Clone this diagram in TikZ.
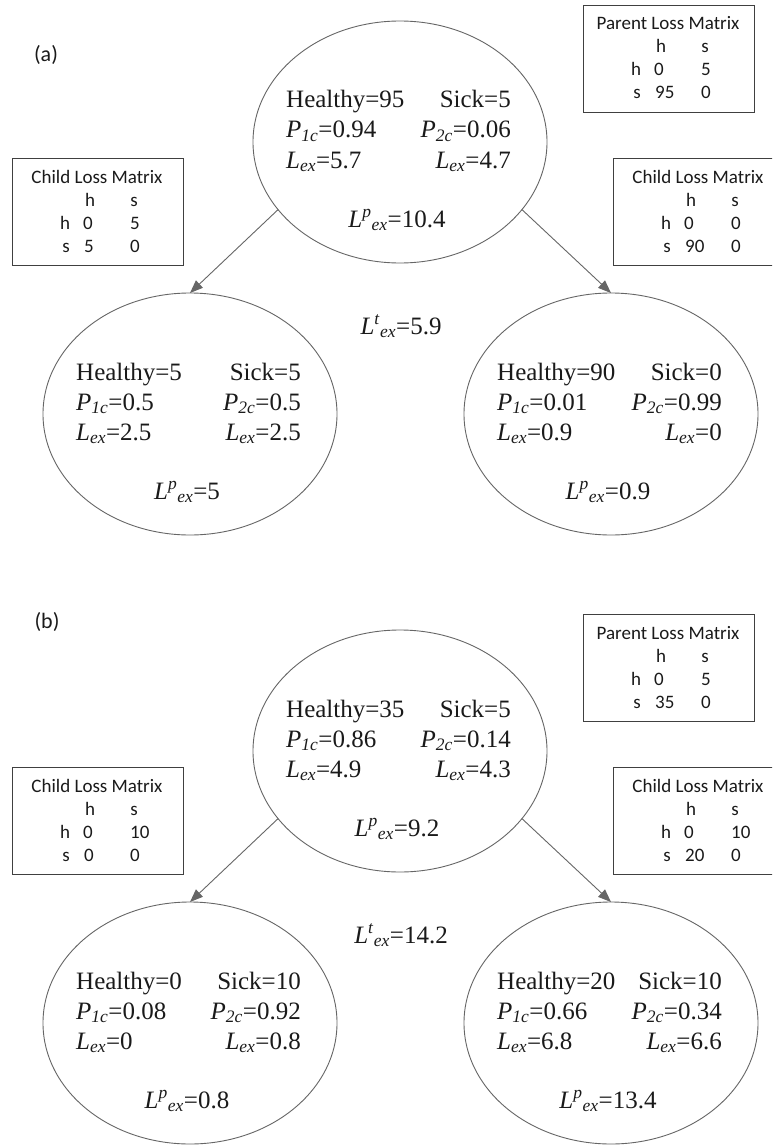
\documentclass[tikz,border=0pt]{standalone}
\usepackage{fontspec}
\setmainfont{Liberation Serif}
\newfontfamily\boxfont{Carlito}
\usetikzlibrary{shapes.geometric,arrows.meta}
\definecolor{linegray}{HTML}{666666}
\definecolor{boxgray}{HTML}{404040}
\definecolor{txtcol}{HTML}{1A1A1A}
\newcommand{\mP}[1]{\textit{P}\textsubscript{\textit{#1}}}
\newcommand{\mLex}{\textit{L}\textsubscript{\textit{ex}}}
\newcommand{\mLsup}[1]{\textit{L}\textsuperscript{\textit{#1}}\textsubscript{\textit{ex}}}
\tikzset{
  ell/.style={ellipse, draw=linegray, line width=0.9pt, inner sep=0pt, outer sep=0pt,
              minimum width=294, minimum height=242},
  txt/.style={inner sep=0pt, text=txtcol, font=\rmfamily\fontsize{25}{30}\selectfont},
  btxt/.style={inner sep=0pt, text=txtcol, font=\boxfont\fontsize{19}{21}\selectfont},
  lbox/.style={draw=boxgray, line width=0.9pt, inner sep=0pt, outer sep=0pt,
               minimum width=171, minimum height=107},
  arr/.style={draw=linegray, line width=0.9pt, -{Triangle[length=13pt,width=10pt,fill=linegray]}},
  lab/.style={inner sep=0pt, text=txtcol, font=\boxfont\fontsize{22}{26}\selectfont}
}
\newcommand{\ellcontent}[8]{%
  \path (#1.center) ++(-114,-34) node[txt, anchor=base west] (#1-a) {Healthy=#2};
  \path (#1.center) ++(111,-34) node[txt, anchor=base east] (#1-b) {Sick=#3};
  \path (#1.center) ++(-114,-4) node[txt, anchor=base west] (#1-c) {\mP{1c}=#4};
  \path (#1.center) ++(111,-4) node[txt, anchor=base east] (#1-d) {\mP{2c}=#5};
  \path (#1.center) ++(-114,26) node[txt, anchor=base west] (#1-e) {\mLex=#6};
  \path (#1.center) ++(111,26) node[txt, anchor=base east] (#1-f) {\mLex=#7};
  \path (#1.center) ++(-3,85) node[txt, anchor=base] (#1-g) {\mLsup{p}=#8};
}
\newcommand{\lossbox}[8]{%
  \node[lbox, anchor=north west] (#1) at (#2,#3) {};
  \path (#1.north west) ++(85,25) node[btxt, anchor=base] (#1-t) {#4};
  \path (#1.north west) ++(78,48) node[btxt, anchor=base] (#1-hh) {h};
  \path (#1.north west) ++(122,48) node[btxt, anchor=base] (#1-hs) {s};
  \path (#1.north west) ++(53,71) node[btxt, anchor=base] (#1-rh) {h};
  \path (#1.north west) ++(71,71) node[btxt, anchor=base west] (#1-a) {#5};
  \path (#1.north west) ++(118,71) node[btxt, anchor=base west] (#1-b) {#6};
  \path (#1.north west) ++(54,94) node[btxt, anchor=base] (#1-rs) {s};
  \path (#1.north west) ++(72,94) node[btxt, anchor=base west] (#1-c) {#7};
  \path (#1.north west) ++(118,94) node[btxt, anchor=base west] (#1-d) {#8};
}
\begin{document}
\begin{tikzpicture}[x=1pt,y=-1pt]
\useasboundingbox (0,0) rectangle (772,1145);
\fill[white] (0,0) rectangle (772,1145);
\clip (0,0) rectangle (772,1145);

% ---------- (a) ----------
\node[lab] (labA) at (46,55) {(a)};
\node[ell] (aT) at (400,142) {};
\node[ell] (aL) at (190,414) {};
\node[ell] (aR) at (611,414) {};
\ellcontent{aT}{95}{5}{0.94}{0.06}{5.7}{4.7}{10.4}
\ellcontent{aL}{5}{5}{0.5}{0.5}{2.5}{2.5}{5}
\ellcontent{aR}{90}{0}{0.01}{0.99}{0.9}{0}{0.9}
\draw[arr] (aT.209) -- (aL.north);
\draw[arr] (aT.331) -- (aR.north);
\node[txt, anchor=base] (aLt) at (401,334) {\mLsup{t}=5.9};
\lossbox{aPB}{583}{5}{Parent Loss Matrix}{0}{5}{95}{0}
\lossbox{aCL}{12}{158}{Child Loss Matrix}{0}{5}{5}{0}
\lossbox{aCR}{613}{158}{Child Loss Matrix}{0}{0}{90}{0}

% ---------- (b) ----------
\node[lab] (labB) at (47,622) {(b)};
\node[ell] (bT) at (400,751) {};
\node[ell] (bL) at (190,1023) {};
\node[ell] (bR) at (611,1023) {};
\ellcontent{bT}{35}{5}{0.86}{0.14}{4.9}{4.3}{9.2}
\ellcontent{bL}{0}{10}{0.08}{0.92}{0}{0.8}{0.8}
\ellcontent{bR}{20}{10}{0.66}{0.34}{6.8}{6.6}{13.4}
\draw[arr] (bT.209) -- (bL.north);
\draw[arr] (bT.331) -- (bR.north);
\node[txt, anchor=base] (bLt) at (401,943) {\mLsup{t}=14.2};
\lossbox{bPB}{583}{614}{Parent Loss Matrix}{0}{5}{35}{0}
\lossbox{bCL}{12}{767}{Child Loss Matrix}{0}{10}{0}{0}
\lossbox{bCR}{613}{767}{Child Loss Matrix}{0}{10}{20}{0}
\end{tikzpicture}
\end{document}
